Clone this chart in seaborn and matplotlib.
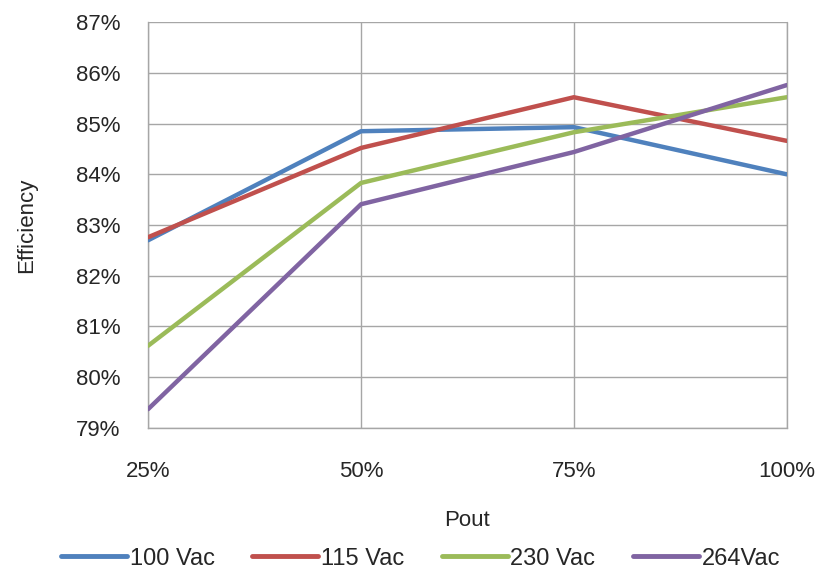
import matplotlib
matplotlib.use("Agg")
import matplotlib.pyplot as plt
import seaborn as sns
import pandas as pd

# Data
pout_labels = ["25%", "50%", "75%", "100%"]
eff_100vac = [82.70, 84.85, 84.93, 84.00]
eff_115vac = [82.76, 84.52, 85.52, 84.66]
eff_230vac = [80.62, 83.83, 84.83, 85.52]
eff_264vac = [79.37, 83.41, 84.44, 85.76]
series_names = ["100 Vac", "115 Vac", "230 Vac", "264Vac"]
colors = ["#4F81BD", "#C0504D", "#9BBB59", "#8064A2"]

rows = []
for name, vals in zip(series_names, [eff_100vac, eff_115vac, eff_230vac, eff_264vac]):
    for i, v in enumerate(vals):
        rows.append({"pos": i, "eff": v, "series": name})
df = pd.DataFrame(rows)

sns.set_style("white")
plt.rcParams["font.family"] = ["Liberation Sans", "DejaVu Sans"]

fig = plt.figure(figsize=(8.23, 5.69), dpi=100)
ax = fig.add_axes([0.180, 0.248, 0.776, 0.713])

sns.lineplot(data=df, x="pos", y="eff", hue="series", palette=colors,
             linewidth=3.2, ax=ax, legend=False, zorder=3)

ax.set_xlim(0, 3)
ax.set_ylim(79, 87)
ax.set_xticks(range(4))
ax.set_xticklabels(pout_labels)
ax.set_yticks(range(79, 88))
ax.set_yticklabels([f"{v}%" for v in range(79, 88)])
ax.tick_params(axis="x", labelsize=16, pad=24, length=0)
ax.tick_params(axis="y", labelsize=16, pad=20, length=0)

ax.grid(True, color="#a6a6a6", linewidth=1)
ax.axvline(3, color="#a6a6a6", linewidth=1, clip_on=False, zorder=1)
for side in ["top", "right"]:
    ax.spines[side].set_visible(False)
for side in ["left", "bottom"]:
    ax.spines[side].set_color("#a6a6a6")
    ax.spines[side].set_linewidth(1)

ax.set_xlabel("Pout", fontsize=16, labelpad=20)
ax.set_ylabel("Efficiency", fontsize=16, labelpad=28)

handles = [plt.Line2D([0], [0], color=c, linewidth=3.5) for c in colors]
fig.legend(handles, series_names, loc="center", bbox_to_anchor=(0.511, 0.018),
           ncol=4, frameon=False, fontsize=17, handlelength=2.8,
           handletextpad=0.1, columnspacing=1.6)

fig.savefig("out.png", dpi=100)
